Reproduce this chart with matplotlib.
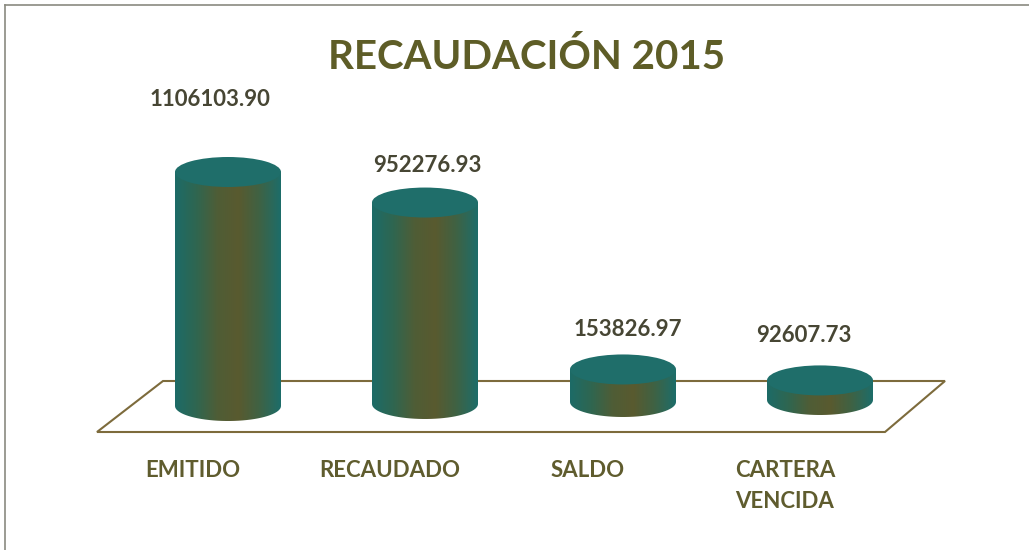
import numpy as np
import matplotlib.pyplot as plt
from matplotlib.patches import PathPatch, Ellipse, Polygon
from matplotlib.path import Path
from matplotlib.colors import LinearSegmentedColormap

categorias = ['EMITIDO', 'RECAUDADO', 'SALDO', 'CARTERA\nVENCIDA']
valores = [1106103.90, 952276.93, 153826.97, 92607.73]
etiquetas = ['1106103.90', '952276.93', '153826.97', '92607.73']

# layout (pixel coords, y down)
cx = [228, 425, 623, 820]
base = [406, 404, 402, 400]
lbl_y = [100, 165, 330, 336]
lbl_x = [210, 427, 628, 804]
rx, ry = 53, 15
escala = 234 / max(valores)

plt.rcParams['font.family'] = ['Lato', 'DejaVu Sans']
fig = plt.figure(figsize=(10.29, 5.5), dpi=100)
ax = fig.add_axes([0, 0, 1, 1])
ax.set_xlim(0, 1029)
ax.set_ylim(550, 0)
ax.axis('off')

# borde del grafico (arriba / izquierda)
ax.plot([5, 1029], [5, 5], color='#8a8a80', lw=1.2)
ax.plot([5, 5], [5, 550], color='#8a8a80', lw=1.2)

# piso
piso = '#7d6b3c'
ax.add_patch(Polygon([(97, 432), (885, 432), (945, 381), (163, 381)],
                     closed=True, fill=False, ec=piso, lw=1.5, zorder=1))

cmap = LinearSegmentedColormap.from_list(
    'cil', ['#1d6b67', '#2f6650', '#4f5d36', '#595a2f', '#3f6244', '#1d6d69'])
grad = np.linspace(0, 1, 200).reshape(1, -1)

for i, v in enumerate(valores):
    h = v * escala
    yb = base[i]
    yt = yb - h
    t = np.linspace(np.pi, 0, 40)
    bx = cx[i] + rx * np.cos(t)
    by = yb + ry * np.sin(t)
    verts = [(cx[i] - rx, yt)] + list(zip(bx, by)) + [(cx[i] + rx, yt), (cx[i] - rx, yt)]
    body = PathPatch(Path(verts), fc='none', ec='none', zorder=2)
    ax.add_patch(body)
    im = ax.imshow(grad, cmap=cmap, aspect='auto',
                   extent=(cx[i] - rx, cx[i] + rx, yb + ry, yt), zorder=2)
    im.set_clip_path(body)
    ax.add_patch(Ellipse((cx[i], yt), 2 * rx, 2 * ry, fc='#1f6e6a', ec='none', zorder=3))
    ax.text(lbl_x[i], lbl_y[i], etiquetas[i], ha='center', va='center',
            fontsize=16, fontweight='bold', color='#474634')
    ax.text(cx[i] - 35, 460, categorias[i], ha='center', va='top',
            fontsize=16, fontweight='bold', color='#5f5c2e', linespacing=1.6)

ax.set_xlim(0, 1029)
ax.set_ylim(550, 0)
ax.text(527, 57, 'RECAUDACIÓN 2015', ha='center', va='center',
        fontsize=29, fontweight='bold', color='#5e5d27')

fig.savefig('out.png', dpi=100)
